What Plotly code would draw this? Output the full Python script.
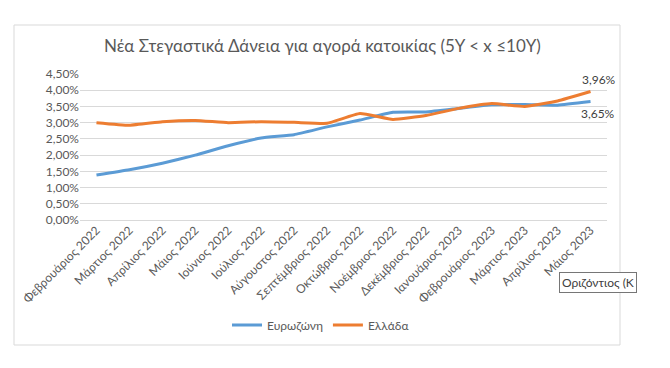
import plotly.graph_objects as go

months = ["Φεβρουάριος 2022", "Μάρτιος 2022", "Απρίλιος 2022", "Μάιος 2022",
          "Ιούνιος 2022", "Ιούλιος 2022", "Αύγουστος 2022", "Σεπτέμβριος 2022",
          "Οκτώβριος 2022", "Νοέμβριος 2022", "Δεκέμβριος 2022", "Ιανουάριος 2023",
          "Φεβρουάριος 2023", "Μάρτιος 2023", "Απρίλιος 2023", "Μάιος 2023"]
eurozone = [1.39, 1.55, 1.75, 2.00, 2.29, 2.53, 2.63, 2.87, 3.08, 3.32, 3.33,
            3.44, 3.55, 3.56, 3.54, 3.65]
greece = [3.00, 2.92, 3.03, 3.07, 3.00, 3.03, 3.01, 2.98, 3.28, 3.10, 3.22,
          3.44, 3.59, 3.50, 3.67, 3.96]
series_names = ["Ευρωζώνη", "Ελλάδα"]
title_text = "Νέα Στεγαστικά Δάνεια για αγορά κατοικίας (5Y < x ≤10Y)"
tooltip_text = "Οριζόντιος (Κ"

BLUE = "#5B9BD5"
ORANGE = "#ED7D31"
GRAY = "#595959"
FONT = "Lato"

OFF = 8  # page body margin
W, H = 670 - OFF, 368 - OFF
L, R, T, B = 80 - OFF, 607 - OFF, 74 - OFF, 220 - OFF
pw, ph = R - L, B - T

def px(x):
    return (x - OFF - L) / pw

def py(y):
    return (B - (y - OFF)) / ph

fig = go.Figure()
fig.add_trace(go.Scatter(x=months, y=eurozone, name=series_names[0], mode="lines",
                         line=dict(color=BLUE, width=3, shape="spline", smoothing=0.4)))
fig.add_trace(go.Scatter(x=months, y=greece, name=series_names[1], mode="lines",
                         line=dict(color=ORANGE, width=3, shape="spline", smoothing=0.4)))

fig.update_layout(
    width=W, height=H,
    margin=dict(l=L, r=W - R, t=T, b=H - B),
    paper_bgcolor="white", plot_bgcolor="white",
    separators=",.",
    font=dict(family=FONT, color=GRAY, size=12),
    showlegend=True,
    legend=dict(orientation="h", x=px(321), xanchor="center", y=py(325), yanchor="middle",
                font=dict(size=12, color=GRAY), itemwidth=30, tracegroupgap=0),
    xaxis=dict(type="category", range=[-0.5, 15.5], tickangle=-45, showgrid=False,
               showline=False, ticks="", tickfont=dict(size=12, color=GRAY)),
    yaxis=dict(range=[0, 4.5], dtick=0.5, tickformat=".2f", ticksuffix="%",
               showgrid=True, gridcolor="#D9D9D9", gridwidth=1, zeroline=True,
               zerolinecolor="#D9D9D9", zerolinewidth=1, showline=False, ticks="",
               tickfont=dict(size=12, color=GRAY)),
)

fig.add_shape(type="rect", xref="paper", yref="paper",
              x0=px(14), x1=px(620), y0=py(345), y1=py(25),
              line=dict(color="#D9D9D9", width=1), layer="below")

fig.add_annotation(text=title_text, xref="paper", yref="paper", x=px(322), y=py(45),
                   xanchor="center", yanchor="middle", showarrow=False,
                   font=dict(family=FONT, size=17, color=GRAY))

fig.add_annotation(text="3,96%", x=months[-1], y=greece[-1], xref="x", yref="y",
                   showarrow=False, xshift=8, yshift=12, font=dict(size=12, color="#404040"))
fig.add_annotation(text="3,65%", x=months[-1], y=eurozone[-1], xref="x", yref="y",
                   showarrow=False, xshift=7, yshift=-12, font=dict(size=12, color="#404040"))

fig.add_annotation(text=tooltip_text, xref="paper", yref="paper", x=px(559), y=py(282),
                   xanchor="left", yanchor="middle", showarrow=False,
                   bgcolor="white", bordercolor="#767676", borderwidth=1, borderpad=2,
                   font=dict(size=12, color="#404040"))

fig.write_html("out.html")
